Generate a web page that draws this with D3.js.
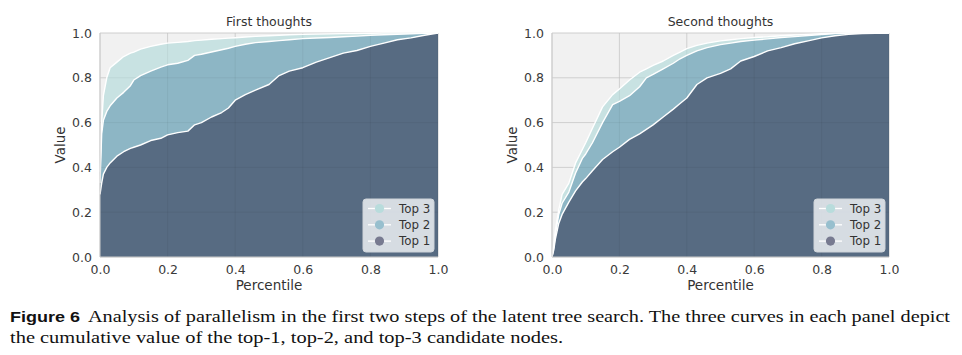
<!DOCTYPE html>
<html><head><meta charset="utf-8">
<script src="https://cdn.jsdelivr.net/npm/d3@7"></script>
<style>body{margin:0;background:#fff;}svg{display:block;}</style>
</head><body>
<svg id="c" width="962" height="355"></svg>
<script>
const percentiles = [0,0.005,0.01,0.02,0.03,0.05,0.07,0.09,0.1,0.12,0.15,0.18,0.2,0.23,0.26,0.28,0.3,0.33,0.36,0.38,0.4,0.43,0.46,0.5,0.53,0.56,0.6,0.64,0.68,0.72,0.76,0.8,0.84,0.88,0.92,0.96,1.0];
const firstTop1 = [0.28,0.33,0.37,0.40,0.42,0.45,0.47,0.485,0.49,0.50,0.52,0.53,0.545,0.555,0.562,0.59,0.60,0.625,0.645,0.665,0.70,0.725,0.745,0.77,0.81,0.83,0.845,0.87,0.89,0.91,0.922,0.94,0.955,0.97,0.978,0.99,1.0];
const firstTop2 = [0.33,0.55,0.61,0.65,0.675,0.71,0.735,0.765,0.79,0.81,0.83,0.848,0.858,0.865,0.878,0.90,0.905,0.915,0.925,0.932,0.94,0.95,0.957,0.962,0.966,0.97,0.975,0.978,0.98,0.983,0.986,0.99,0.992,0.994,0.996,0.999,1.0];
const firstTop3 = [0.38,0.60,0.72,0.80,0.845,0.87,0.895,0.91,0.915,0.928,0.94,0.95,0.955,0.958,0.962,0.966,0.968,0.972,0.975,0.977,0.979,0.982,0.985,0.988,0.99,0.992,0.994,0.995,0.996,0.997,0.998,0.999,1,1,1,1,1];
const secondTop1 = [0,0.03,0.08,0.15,0.19,0.245,0.295,0.335,0.35,0.385,0.435,0.47,0.49,0.525,0.55,0.57,0.59,0.625,0.66,0.685,0.71,0.77,0.80,0.82,0.84,0.875,0.895,0.92,0.935,0.952,0.965,0.978,0.988,0.994,0.997,0.999,1.0];
const secondTop2 = [0,0.04,0.10,0.19,0.24,0.29,0.375,0.44,0.46,0.51,0.60,0.68,0.695,0.72,0.76,0.80,0.815,0.84,0.865,0.885,0.90,0.92,0.935,0.948,0.955,0.962,0.968,0.974,0.98,0.984,0.989,0.993,0.997,1,1,1,1];
const secondTop3 = [0,0.05,0.12,0.21,0.28,0.33,0.42,0.48,0.51,0.575,0.67,0.725,0.75,0.79,0.825,0.84,0.855,0.875,0.90,0.915,0.93,0.945,0.955,0.965,0.97,0.975,0.98,0.983,0.988,0.991,0.994,0.997,0.999,1,1,1,1];
const tickLabels = ["0.0","0.2","0.4","0.6","0.8","1.0"];
const tickValues = [0,0.2,0.4,0.6,0.8,1.0];
const seriesNames = ["Top 3","Top 2","Top 1"];
const panelTitles = ["First thoughts","Second thoughts"];

const fillColors = {"Top 3":"#c8e2e2","Top 2":"#8db6c5","Top 1":"#576b82"};
const markerColors = {"Top 3":"#b8dcdc","Top 2":"#97bfce","Top 1":"#777a90"};

const panels = [
  {title: panelTitles[0], x0:100, x1:438, data:{"Top 3":firstTop3,"Top 2":firstTop2,"Top 1":firstTop1}},
  {title: panelTitles[1], x0:552, x1:889, data:{"Top 3":secondTop3,"Top 2":secondTop2,"Top 1":secondTop1}}
];
const yTop = 33, yBot = 257;
const svg = d3.select("#c");
const font = "DejaVu Sans, sans-serif";

panels.forEach(pn => {
  const x = d3.scaleLinear().domain([0,1]).range([pn.x0, pn.x1]);
  const y = d3.scaleLinear().domain([0,1]).range([yBot, yTop]);
  const g = svg.append("g");
  g.append("rect").attr("x",pn.x0).attr("y",yTop).attr("width",pn.x1-pn.x0).attr("height",yBot-yTop).attr("fill","#f1f1f1");
  tickValues.forEach(t => {
    g.append("line").attr("x1",x(t)).attr("x2",x(t)).attr("y1",yTop).attr("y2",yBot).attr("stroke","#dadada").attr("stroke-width",1);
    g.append("line").attr("x1",pn.x0).attr("x2",pn.x1).attr("y1",y(t)).attr("y2",y(t)).attr("stroke","#dadada").attr("stroke-width",1);
  });
  const area = d3.area().x((d,i)=>x(percentiles[i])).y0(y(0)).y1(d=>y(d));
  const line = d3.line().x((d,i)=>x(percentiles[i])).y(d=>y(d));
  seriesNames.forEach(s => {
    g.append("path").datum(pn.data[s]).attr("d",area).attr("fill",fillColors[s]);
  });
  tickValues.forEach(t => {
    g.append("line").attr("x1",x(t)).attr("x2",x(t)).attr("y1",yTop).attr("y2",yBot).attr("stroke","rgba(0,0,0,0.05)");
    g.append("line").attr("x1",pn.x0).attr("x2",pn.x1).attr("y1",y(t)).attr("y2",y(t)).attr("stroke","rgba(0,0,0,0.05)");
  });
  seriesNames.forEach(s => {
    g.append("path").datum(pn.data[s]).attr("d",line).attr("fill","none").attr("stroke","#fff").attr("stroke-width",1.4).attr("stroke-linejoin","round");
  });
  g.append("line").attr("x1",pn.x0).attr("x2",pn.x0).attr("y1",yTop).attr("y2",yBot).attr("stroke","#cfcfcf");
  g.append("line").attr("x1",pn.x0).attr("x2",pn.x1).attr("y1",yBot).attr("y2",yBot).attr("stroke","#cfcfcf");
  const xa = g.append("g").attr("transform",`translate(0,${yBot})`).call(d3.axisBottom(x).tickValues(tickValues).tickFormat((d,i)=>tickLabels[i]).tickSize(0).tickPadding(8));
  const ya = g.append("g").attr("transform",`translate(${pn.x0},0)`).call(d3.axisLeft(y).tickValues(tickValues).tickFormat((d,i)=>tickLabels[i]).tickSize(0).tickPadding(8));
  [xa,ya].forEach(a => { a.select(".domain").remove(); a.selectAll("text").attr("font-family",font).attr("font-size",12.5).attr("fill","#3a3a3a"); });
  g.append("text").attr("x",(pn.x0+pn.x1)/2).attr("y",26).attr("text-anchor","middle").attr("font-family",font).attr("font-size",12.5).attr("fill","#333").text(pn.title);
  g.append("text").attr("x",(pn.x0+pn.x1)/2).attr("y",290).attr("text-anchor","middle").attr("font-family",font).attr("font-size",13.5).attr("fill","#333").text("Percentile");
  g.append("text").attr("transform",`translate(${pn.x0-35},${(yTop+yBot)/2}) rotate(-90)`).attr("text-anchor","middle").attr("font-family",font).attr("font-size",13.5).attr("fill","#333").text("Value");
  const lx = pn.x1 - 75, ly = 199;
  const lg = g.append("g");
  lg.append("rect").attr("x",lx).attr("y",ly).attr("width",71).attr("height",53).attr("rx",3).attr("fill","rgba(236,240,243,0.85)").attr("stroke","#cfd4d9");
  seriesNames.forEach((s,i) => {
    const cy = ly + 9.5 + i*16.3;
    lg.append("line").attr("x1",lx+5).attr("x2",lx+28).attr("y1",cy).attr("y2",cy).attr("stroke","#fff").attr("stroke-width",1.3);
    lg.append("circle").attr("cx",lx+16.5).attr("cy",cy).attr("r",4.6).attr("fill",markerColors[s]);
    lg.append("text").attr("x",lx+36).attr("y",cy+4.2).attr("font-family",font).attr("font-size",11.8).attr("fill","#333").text(s);
  });
});

const cap = svg.append("g");
cap.append("text").attr("x",10).attr("y",322).attr("font-family","Liberation Sans, Arial, sans-serif").attr("font-weight","bold").attr("font-size",15).attr("fill","#111")
  .attr("textLength",70).attr("lengthAdjust","spacingAndGlyphs").text("Figure 6");
cap.append("text").attr("x",88).attr("y",322).attr("font-family","Liberation Serif, serif").attr("font-size",16).attr("fill","#111")
  .attr("textLength",862).attr("lengthAdjust","spacingAndGlyphs")
  .text("Analysis of parallelism in the first two steps of the latent tree search. The three curves in each panel depict");
cap.append("text").attr("x",10).attr("y",343).attr("font-family","Liberation Serif, serif").attr("font-size",16).attr("fill","#111")
  .attr("textLength",553).attr("lengthAdjust","spacingAndGlyphs")
  .text("the cumulative value of the top-1, top-2, and top-3 candidate nodes.");
</script>
</body></html>
